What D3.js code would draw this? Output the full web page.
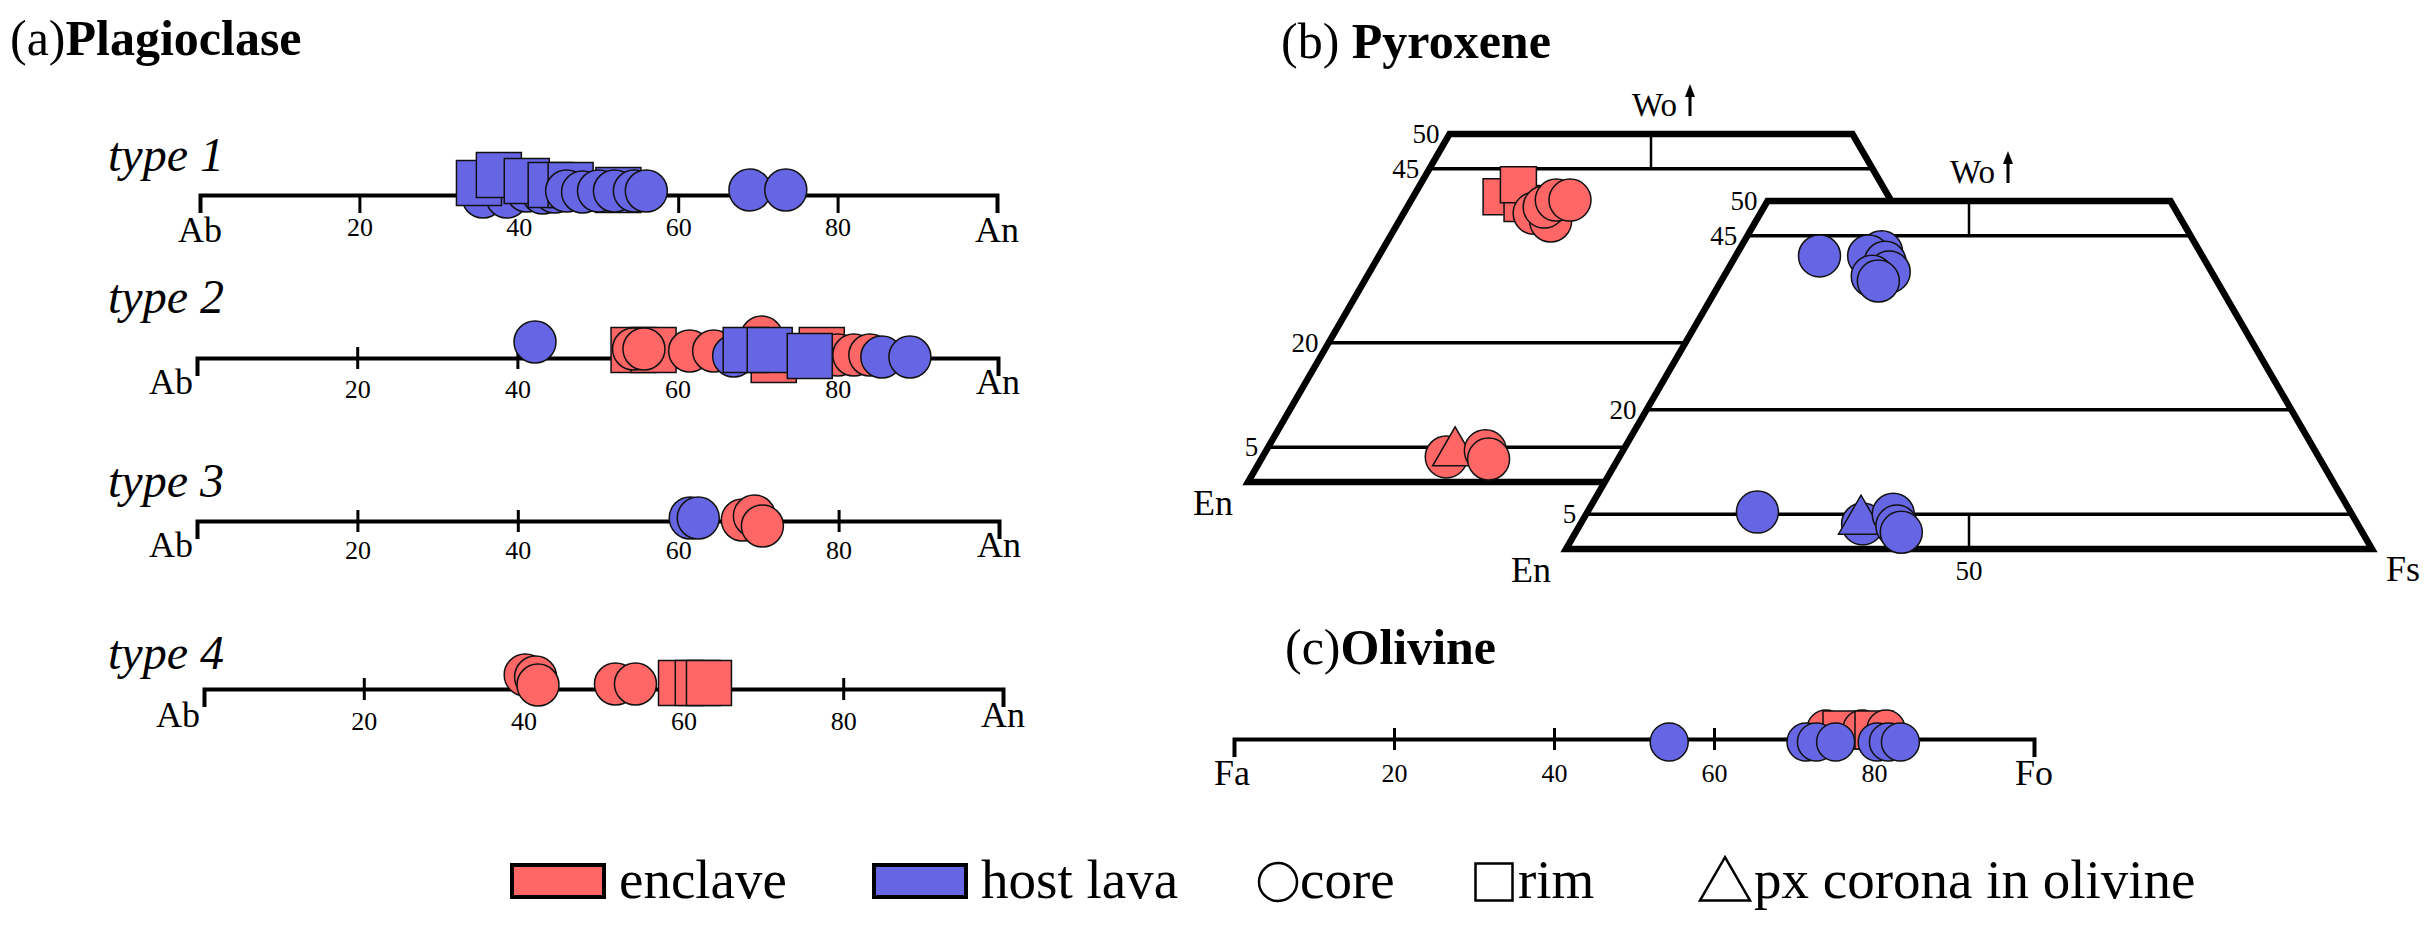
<!DOCTYPE html>
<html>
<head>
<meta charset="utf-8">
<script src="https://cdn.jsdelivr.net/npm/d3@7"></script>
<style>
  body { margin: 0; background: #fff; }
  svg { display: block; }
  text { font-family: "Liberation Serif", "Times New Roman", serif; fill: #000; }
</style>
</head>
<body>
<svg id="chart" width="2430" height="926"></svg>
<script>
// ---- data ----
var plagTypes = ["type 1", "type 2", "type 3", "type 4"];
var plagTicks = [20, 40, 60, 80];
var plagEnds = ["Ab", "An"];

// [An mol%, group, shape, lift (-1 above .. 1 below the line)]
var plagType1 = [
    [35.5, "host", "core", 0.1], [38.5, "host", "core", 0.1],
    [35, "host", "rim", -0.6], [37.5, "host", "rim", -1.0],
    [41, "host", "core", -0.2], [43, "host", "core", -0.1],
    [41, "host", "rim", -0.7], [44.5, "host", "core", -0.15],
    [44, "host", "rim", -0.5], [46.5, "host", "rim", -0.5],
    [46, "host", "core", -0.2], [48, "host", "core", -0.15],
    [52.5, "host", "rim", -0.25], [50, "host", "core", -0.2],
    [52, "host", "core", -0.2], [54.5, "host", "core", -0.2],
    [56, "host", "core", -0.2], [69, "host", "core", -0.25],
    [73.5, "host", "core", -0.25]
];
var plagType2 = [
    [42.2, "host", "core", -0.8],
    [54.5, "enclave", "rim", -0.4], [57, "enclave", "rim", -0.4],
    [54.5, "enclave", "core", -0.45], [55.8, "enclave", "core", -0.45],
    [61.5, "enclave", "core", -0.35], [64.5, "enclave", "core", -0.35],
    [72, "enclave", "rim", 0.1], [70.5, "enclave", "core", -1.05],
    [67, "host", "core", -0.1], [68.5, "host", "rim", -0.4], [71.5, "host", "rim", -0.4],
    [78, "enclave", "rim", -0.4], [80, "enclave", "core", -0.15], [82, "enclave", "core", -0.15],
    [76.5, "host", "rim", -0.1], [84, "enclave", "core", -0.15],
    [85.5, "host", "core", -0.05], [89, "host", "core", -0.05]
];
var plagType3 = [
    [61.5, "host", "core", -0.15], [62.5, "host", "core", -0.15],
    [68, "enclave", "core", -0.05], [69.5, "enclave", "core", -0.25], [70.5, "enclave", "core", 0.25]
];
var plagType4 = [
    [40.2, "enclave", "core", -0.7], [41.5, "enclave", "core", -0.6], [41.8, "enclave", "core", -0.2],
    [51.5, "enclave", "core", -0.25], [54, "enclave", "core", -0.25],
    [59.7, "enclave", "rim", -0.3], [61.8, "enclave", "rim", -0.3], [63.2, "enclave", "rim", -0.3]
];

var pyxWoLines = [5, 20, 45];
var pyxWoLabels = [5, 20, 45, 50];
// [Wo, Fs, shape]
var pyxEnclave = [
    [41, 10.9, "rim"], [40, 14, "rim"], [42.7, 12.2, "rim"],
    [38.6, 16.2, "core"], [37.5, 18.8, "core"], [39.5, 17, "core"],
    [40.5, 18, "core"], [40.5, 19.7, "core"],
    [3.6, 22.8, "core"], [4.2, 23.6, "corona"], [4.5, 27.2, "core"], [3.3, 28.2, "core"]
];
var pyxHost = [
    [42.1, 10.4, "core"], [42.7, 17.8, "core"], [42.1, 16.5, "core"],
    [41.2, 19, "core"], [39.8, 20.2, "core"], [39.2, 18.4, "core"], [38.5, 19.5, "core"],
    [5.3, 21.1, "core"], [3.6, 35, "core"], [4.0, 34.6, "corona"],
    [5.0, 38.1, "core"], [3.3, 39.4, "core"], [2.4, 40.4, "core"]
];

var olTicks = [20, 40, 60, 80];
var olEnds = ["Fa", "Fo"];
// [Fo mol%, group, shape, lift]
var olivine = [
    [54.4, "host", "core", 0.15],
    [74, "enclave", "core", -0.5], [76, "enclave", "rim", -0.45], [78.5, "enclave", "core", -0.5],
    [80, "enclave", "rim", -0.45], [81.5, "enclave", "core", -0.5],
    [71.5, "host", "core", 0.15], [72.8, "host", "core", 0.15], [75.2, "host", "core", 0.15],
    [80.4, "host", "core", 0.15], [81.8, "host", "core", 0.15], [83.3, "host", "core", 0.15]
];

var legendGroups = ["enclave", "host lava"];
var legendShapes = [["core", "core"], ["rim", "rim"], ["corona", "px corona in olivine"]];

// ---- drawing ----
var svg = d3.select("#chart");
var colour = d3.scaleOrdinal().domain(["enclave", "host"]).range(["#ff6666", "#6666e4"]);
var liftScale = d3.scaleLinear().domain([-1, 1]).range([-20, 20]);

function symbolPath(shape, sz) {
    if (shape === "core") return d3.symbol(d3.symbolCircle, Math.PI * sz.r * sz.r)();
    if (shape === "rim") return d3.symbol(d3.symbolSquare, sz.s * sz.s)();
    return d3.symbol(d3.symbolTriangle, Math.sqrt(3) / 4 * sz.t * sz.t)();
}

function title(x, y, a, b) {
    var t = svg.append("text").attr("x", x).attr("y", y).attr("font-size", 50);
    t.append("tspan").text(a);
    t.append("tspan").attr("font-weight", "bold").text(b);
}

// line axis with end brackets (used for plagioclase and olivine)
function lineAxis(L, ticks, ends, data, sz) {
    var x = d3.scaleLinear().domain([0, 100]).range([L.x0, L.x1]);
    var g = svg.append("g").attr("transform", "translate(0," + L.y + ")");
    g.call(d3.axisBottom(x).tickValues(ticks).tickSizeInner(18).tickSizeOuter(18));
    g.attr("font-family", null).attr("font-size", null);
    g.select(".domain").attr("stroke", "#000").attr("stroke-width", 4);
    var tl = g.selectAll(".tick line").attr("stroke", "#000").attr("stroke-width", 3);
    if (L.cross) tl.attr("y1", -11).attr("y2", 11);
    g.selectAll(".tick text").attr("y", L.num).attr("dy", 0).attr("font-size", 26);

    g.append("text").attr("x", L.abX).attr("y", L.abY)
        .attr("text-anchor", L.abAnchor).attr("font-size", 36).text(ends[0]);
    g.append("text").attr("x", L.x1).attr("y", L.abY)
        .attr("text-anchor", "middle").attr("font-size", 36).text(ends[1]);

    g.selectAll("path.pt").data(data).join("path").attr("class", "pt")
        .attr("transform", function (d) { return "translate(" + x(d[0]) + "," + liftScale(d[3]) + ")"; })
        .attr("d", function (d) { return symbolPath(d[2], sz); })
        .attr("fill", function (d) { return colour(d[1]); })
        .attr("stroke", "#111").attr("stroke-width", 1.5);
    return g;
}

// (a) Plagioclase
title(10, 55, "(a)", "Plagioclase");
var plagLayout = [
    { y: 195, x0: 200, x1: 997, cross: false, num: 41, abX: 200, abY: 47, abAnchor: "middle", label: 171 },
    { y: 358, x0: 197, x1: 998, cross: true, num: 40, abX: 193, abY: 36, abAnchor: "end", label: 313 },
    { y: 521, x0: 197, x1: 999, cross: true, num: 38, abX: 193, abY: 36, abAnchor: "end", label: 497 },
    { y: 689, x0: 204, x1: 1003, cross: true, num: 41, abX: 200, abY: 38, abAnchor: "end", label: 669 }
];
var plagData = [plagType1, plagType2, plagType3, plagType4];
var plagSize = { r: 21, s: 45, t: 45 };
plagTypes.forEach(function (name, i) {
    var L = plagLayout[i];
    svg.append("text").attr("x", 108).attr("y", L.label)
        .attr("font-size", 48).attr("font-style", "italic").text(name);
    lineAxis(L, plagTicks, plagEnds, plagData[i], plagSize);
});

// (b) Pyroxene
title(1281, 58, "(b) ", "Pyroxene");
var pyxSide = 806, pyxHeight = 696;
var pyxSize = { r: 21, s: 36, t: 45 };

function drawPyx(origin, data, front) {
    var g = svg.append("g").attr("transform", "translate(" + origin[0] + "," + origin[1] + ")");
    var wo = d3.scaleLinear().domain([0, 100]).range([0, -pyxHeight]);
    var fs = d3.scaleLinear().domain([0, 100]).range([0, pyxSide]);
    function pt(w, f) { return [fs(f + w / 2), wo(w)]; }
    var outline = [pt(0, 0), pt(0, 100), pt(50, 50), pt(50, 0)];

    g.append("polygon").attr("points", outline.join(" ")).attr("fill", "#fff");
    g.selectAll("line.wo").data(pyxWoLines).join("line").attr("class", "wo")
        .attr("x1", function (w) { return pt(w, 0)[0]; }).attr("y1", function (w) { return wo(w); })
        .attr("x2", function (w) { return pt(w, 100 - w)[0]; }).attr("y2", function (w) { return wo(w); })
        .attr("stroke", "#000").attr("stroke-width", 3.5);
    var ticks = [[pt(50, 25), pt(45, 27.5)]];
    if (front) ticks.push([pt(0, 50), pt(5, 47.5)]);
    g.selectAll("line.mid").data(ticks).join("line").attr("class", "mid")
        .attr("x1", function (d) { return d[0][0]; }).attr("y1", function (d) { return d[0][1]; })
        .attr("x2", function (d) { return d[1][0]; }).attr("y2", function (d) { return d[1][1]; })
        .attr("stroke", "#000").attr("stroke-width", 2.5);
    g.append("polygon").attr("points", outline.join(" "))
        .attr("fill", "none").attr("stroke", "#000").attr("stroke-width", 6.5);

    g.selectAll("text.wol").data(pyxWoLabels).join("text").attr("class", "wol")
        .attr("x", function (w) { return pt(w, 0)[0] - 10; })
        .attr("y", function (w) { return wo(w) + 9; })
        .attr("text-anchor", "end").attr("font-size", 27).text(function (w) { return w; });

    var top = pt(50, 25);
    g.append("text").attr("x", top[0] - 19).attr("y", top[1] - 18).attr("font-size", 33).text("Wo");
    var ax = top[0] + 39, ay = top[1] - 18;
    g.append("line").attr("x1", ax).attr("y1", ay).attr("x2", ax).attr("y2", ay - 22)
        .attr("stroke", "#000").attr("stroke-width", 3);
    g.append("path").attr("d", "M" + ax + "," + (ay - 32) + "L" + (ax - 5) + "," + (ay - 19) + "L" + (ax + 5) + "," + (ay - 19) + "Z")
        .attr("fill", "#000");

    g.append("text").attr("x", -35).attr("y", 33).attr("text-anchor", "middle").attr("font-size", 36).text("En");
    if (front) {
        g.append("text").attr("x", fs(50)).attr("y", 31).attr("text-anchor", "middle").attr("font-size", 27).text("50");
        g.append("text").attr("x", fs(100) + 31).attr("y", 32).attr("text-anchor", "middle").attr("font-size", 36).text("Fs");
    }

    var group = front ? "host" : "enclave";
    g.selectAll("path.pt").data(data).join("path").attr("class", "pt")
        .attr("transform", function (d) { var p = pt(d[0], d[1]); return "translate(" + p[0] + "," + p[1] + ")"; })
        .attr("d", function (d) { return symbolPath(d[2], pyxSize); })
        .attr("fill", colour(group)).attr("stroke", "#111").attr("stroke-width", 1.5);
}
drawPyx([1248, 482], pyxEnclave, false);
drawPyx([1566, 549], pyxHost, true);

// (c) Olivine
title(1285, 664, "(c)", "Olivine");
lineAxis({ y: 739, x0: 1234, x1: 2034, cross: true, num: 43, abX: 1232, abY: 46, abAnchor: "middle" },
    olTicks, olEnds, olivine, { r: 19, s: 38, t: 42 });

// legend
var lg = svg.append("g");
var swX = [512, 874];
legendGroups.forEach(function (name, i) {
    lg.append("rect").attr("x", swX[i]).attr("y", 865).attr("width", 92).attr("height", 32)
        .attr("fill", colour(i === 0 ? "enclave" : "host")).attr("stroke", "#000").attr("stroke-width", 4);
    lg.append("text").attr("x", swX[i] + 107).attr("y", 898).attr("font-size", 55).text(name);
});
var shX = [1278, 1494, 1725];
var shText = [1300, 1518, 1754];
legendShapes.forEach(function (d, i) {
    lg.append("path").attr("transform", "translate(" + shX[i] + "," + (d[0] === "corona" ? 886 : 882) + ")")
        .attr("d", symbolPath(d[0], { r: 19, s: 37, t: 50 }))
        .attr("fill", "#fff").attr("stroke", "#000").attr("stroke-width", 2.5);
    lg.append("text").attr("x", shText[i]).attr("y", 898).attr("font-size", 55).text(d[1]);
});
</script>
</body>
</html>
